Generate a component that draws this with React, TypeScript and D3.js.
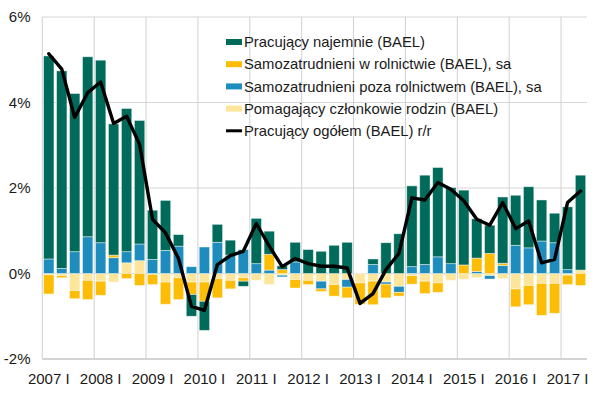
import React from 'react';
import * as d3 from 'd3';

// kwartały 2007 I – 2017 II
const QUARTERS: string[] = [];
for (let y = 2007; y <= 2017; y++) {
  ['I', 'II', 'III', 'IV'].forEach(q => QUARTERS.push(`${y} ${q}`));
}
const CATEGORIES = QUARTERS.slice(0, 42);

// wkład do zmiany r/r, pp
const NAJEMNIE = [
  4.75, 4.62, 3.70, 4.21, 4.27, 3.07, 3.35, 2.89,
  1.15, 1.17, 0.27, -0.51, -0.68, 0.42, 0.35, -0.12,
  1.06, 0.54, 0.09, 0.46, 0.56, 0.52, 0.66, 0.73,
  0, 0.13, 0.72, 0.93, 1.89, 2.09, 2.09, 1.78,
  1.75, 0.92, 0.66, 1.55, 1.17, 1.43, 0.96, 0.69,
  1.47, 2.22
];
const ROLNICTWO = [
  -0.45, -0.05, -0.19, -0.45, -0.33, 0.06, -0.12, -0.28,
  -0.24, -0.52, -0.51, -0.29, -0.45, -0.45, -0.20, -0.08,
  0, 0.37, 0.09, -0.20, -0.10, -0.06, -0.27, -0.25,
  -0.50, -0.55, -0.32, -0.09, -0.20, -0.29, -0.22, 0,
  0.20, 0.31, 0.47, 0.05, -0.42, -0.45, -0.75, -0.70,
  -0.22, -0.28
];
const POZA_ROLN = [
  0.34, 0.12, 0.51, 0.86, 0.72, 0.37, 0.26, 0.39,
  0.33, 0.54, 0.64, 0.16, 0.62, 0.73, 0.43, 0.56,
  0.23, 0.08, -0.04, 0.27, 0, -0.18, 0, -0.18,
  0, 0.21, -0.05, -0.14, 0.16, 0.21, 0.39, 0.23,
  0, 0.05, -0.08, 0.19, 0.66, 0.60, 0.76, 0.72,
  0.09, 0
];
const POMAGAJACY = [
  -0.03, -0.05, -0.40, -0.16, -0.18, -0.20, 0.25, 0.30,
  -0.02, -0.20, -0.10, -0.20, -0.20, -0.12, -0.16, -0.10,
  -0.16, -0.26, -0.04, -0.14, -0.16, -0.18, -0.26, -0.14,
  -0.22, -0.18, -0.20, -0.30, -0.05, -0.18, -0.22, -0.16,
  -0.14, -0.10, -0.05, -0.12, -0.36, -0.28, -0.23, -0.23,
  -0.04, 0.08
];
const OGOLEM = [
  5.14, 4.78, 3.65, 4.23, 4.48, 3.51, 3.68, 3.02,
  1.27, 0.95, 0.35, -0.77, -0.86, 0.21, 0.42, 0.52,
  1.17, 0.64, 0.16, 0.35, 0.23, 0.17, 0.17, 0.13,
  -0.70, -0.47, 0.09, 0.47, 1.77, 1.72, 2.13, 1.97,
  1.70, 1.27, 1.13, 1.66, 1.05, 1.23, 0.25, 0.33,
  1.66, 1.93
];
const Y_TICKS = [-2, 0, 2, 4, 6];

const SERIES = [
  { key: 'naj', label: 'Pracujący najemnie (BAEL)', color: '#006b5a', values: NAJEMNIE },
  { key: 'roln', label: 'Samozatrudnieni w rolnictwie (BAEL), sa', color: '#fdbd06', values: ROLNICTWO },
  { key: 'poza', label: 'Samozatrudnieni poza rolnictwem (BAEL), sa', color: '#1e8cbc', values: POZA_ROLN },
  { key: 'pom', label: 'Pomagający członkowie rodzin (BAEL)', color: '#fde69c', values: POMAGAJACY },
];
const LINE_LABEL = 'Pracujący ogółem (BAEL) r/r';
// kolejność stosu od zera (odwrotnie do legendy)
const STACK_KEYS = ['pom', 'poza', 'roln', 'naj'];

const FONT = '"Liberation Sans", Arial, sans-serif';

export default function App() {
  const W = 610, H = 399;
  const margin = { top: 17, right: 23, bottom: 40, left: 42.3 };

  const x = d3.scaleBand<string>()
    .domain(CATEGORIES)
    .range([margin.left, W - margin.right])
    .paddingInner(0.2)
    .paddingOuter(0.1);
  const y = d3.scaleLinear().domain([-2, 6]).range([H - margin.bottom, margin.top]);

  const rows = CATEGORIES.map((c, i) => {
    const r: any = { cat: c };
    SERIES.forEach(s => (r[s.key] = s.values[i]));
    return r;
  });
  const stacked = d3.stack<any>().keys(STACK_KEYS).offset(d3.stackOffsetDiverging)(rows);
  const colorOf = (k: string) => SERIES.find(s => s.key === k)!.color;

  const step = x.step();
  const halfGap = (step - x.bandwidth()) / 2;
  const yearStarts = CATEGORIES.filter((_, i) => i % 4 === 0);

  const line = d3.line<number>()
    .x((_, i) => x(CATEGORIES[i])! + x.bandwidth() / 2)
    .y(d => y(d));

  const legendX = 226, legendY = 42, legendDy = 22.2;

  return (
    <svg width={W} height={H} style={{ position: 'absolute', left: 0, top: 0, background: '#fff' }}
      fontFamily={FONT}>
      {/* siatka pozioma */}
      {Y_TICKS.map(t => (
        <line key={'h' + t} x1={margin.left} x2={W - margin.right} y1={y(t)} y2={y(t)}
          stroke={t === -2 ? '#c4c4c4' : '#d6d6d6'} strokeWidth={t === -2 ? 1.5 : 1} />
      ))}
      {/* siatka pionowa na granicach lat */}
      {yearStarts.map(c => (
        <line key={'v' + c} x1={x(c)! - halfGap} x2={x(c)! - halfGap} y1={y(6)} y2={y(-2)}
          stroke="#d0d0d0" strokeWidth={1} />
      ))}

      {/* słupki */}
      {stacked.map(layer => (
        <g key={layer.key} fill={colorOf(layer.key)}>
          {layer.map((d, i) => {
            const h = Math.abs(y(d[0]) - y(d[1]));
            if (h < 0.2) return null;
            return (
              <rect key={i} x={x(CATEGORIES[i])} width={x.bandwidth()}
                y={Math.min(y(d[0]), y(d[1]))} height={h}
                stroke="#ffffff" strokeOpacity={0.55} strokeWidth={0.8} />
            );
          })}
        </g>
      ))}

      {/* linia ogółem */}
      <path d={line(OGOLEM)!} fill="none" stroke="#000" strokeWidth={3.4}
        strokeLinejoin="round" strokeLinecap="round" />

      {/* oś Y */}
      {Y_TICKS.map(t => (
        <text key={'yl' + t} x={30.5} y={y(t)} dy="0.35em" textAnchor="end" fontSize={15} fill="#1a1a1a">
          {`${t}%`}
        </text>
      ))}
      {/* oś X */}
      {yearStarts.map(c => (
        <text key={'xl' + c} x={x(c)! + x.bandwidth() / 2} y={383.5} textAnchor="middle"
          fontSize={15} fill="#1a1a1a">
          {c}
        </text>
      ))}

      {/* legenda */}
      {SERIES.map((s, i) => (
        <g key={'lg' + s.key} transform={`translate(${legendX},${legendY + i * legendDy})`}>
          <rect x={0} y={-3} width={16} height={6} fill={s.color} />
          <text x={18} y={0} dy="0.35em" fontSize={14.8} fill="#1a1a1a">{s.label}</text>
        </g>
      ))}
      <g transform={`translate(${legendX},${legendY + 4 * legendDy})`}>
        <line x1={0} x2={16} y1={0} y2={0} stroke="#000" strokeWidth={3} />
        <text x={18} y={0} dy="0.35em" fontSize={14.8} fill="#1a1a1a">{LINE_LABEL}</text>
      </g>
    </svg>
  );
}
